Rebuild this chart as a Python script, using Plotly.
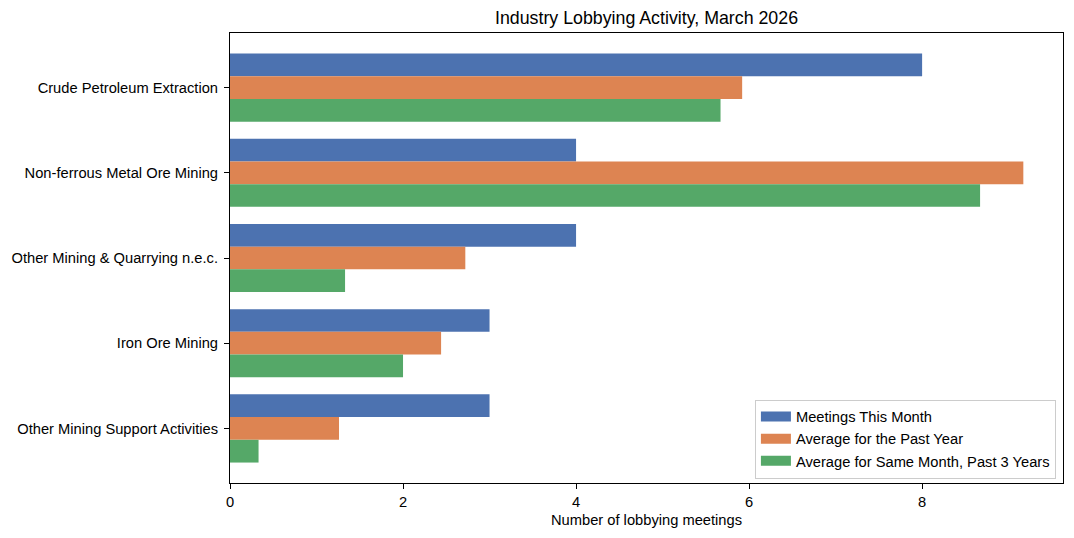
import plotly.graph_objects as go

categories = ["Crude Petroleum Extraction", "Non-ferrous Metal Ore Mining",
              "Other Mining & Quarrying n.e.c.", "Iron Ore Mining",
              "Other Mining Support Activities"]
meetings_this_month = [8, 4, 4, 3, 3]
avg_past_year = [5.92, 9.17, 2.72, 2.44, 1.26]
avg_same_month_3y = [5.67, 8.67, 1.33, 2.0, 0.33]
series_names = ["Meetings This Month", "Average for the Past Year",
                "Average for Same Month, Past 3 Years"]
colors = ["#4c72b0", "#dd8452", "#55a868"]

pos = list(range(len(categories)))
fig = go.Figure()
for name, vals, c in zip(series_names, [meetings_this_month, avg_past_year, avg_same_month_3y], colors):
    fig.add_trace(go.Bar(y=pos, x=vals, name=name, orientation="h", showlegend=False,
                         marker=dict(color=c, line=dict(width=0))))
# legend patches (wide rectangles like the reference)
for name, c in zip(series_names, colors):
    fig.add_trace(go.Scatter(x=[None], y=[None], mode="lines", name=name,
                             line=dict(color=c, width=11)))

xmax = max(max(meetings_this_month), max(avg_past_year), max(avg_same_month_3y)) * 1.05
font = "Liberation Sans, Arial, sans-serif"
fs = 14.7
fig.update_layout(
    width=1074, height=538,
    margin=dict(l=230, r=11, t=33, b=55),
    paper_bgcolor="white", plot_bgcolor="white",
    barmode="group", bargap=0.2, bargroupgap=0,
    font=dict(family=font, size=fs, color="black"),
    title=dict(text="Industry Lobbying Activity, March 2026", x=0.5, xref="paper",
               xanchor="center", y=1 - 18/538, yanchor="middle",
               font=dict(size=17.8, color="black")),
    xaxis=dict(range=[0, xmax], tickvals=[0, 2, 4, 6, 8], showgrid=False, zeroline=False,
               showline=True, linecolor="black", linewidth=1, mirror=True,
               ticks="outside", ticklen=5, tickcolor="black",
               title=dict(text="Number of lobbying meetings", font=dict(size=fs), standoff=6)),
    yaxis=dict(range=[4.64, -0.64], tickvals=pos, ticktext=categories, showgrid=False,
               zeroline=False, showline=True, linecolor="black", linewidth=1, mirror=True,
               ticks="outside", ticklen=5, tickcolor="black", ticklabelstandoff=3),
    legend=dict(x=0.9915, xanchor="right", y=0.01, yanchor="bottom",
                bgcolor="rgba(255,255,255,0.8)", bordercolor="#cccccc", borderwidth=1,
                font=dict(size=fs), tracegroupgap=0, traceorder="normal"),
)
fig.write_html("out.html")
